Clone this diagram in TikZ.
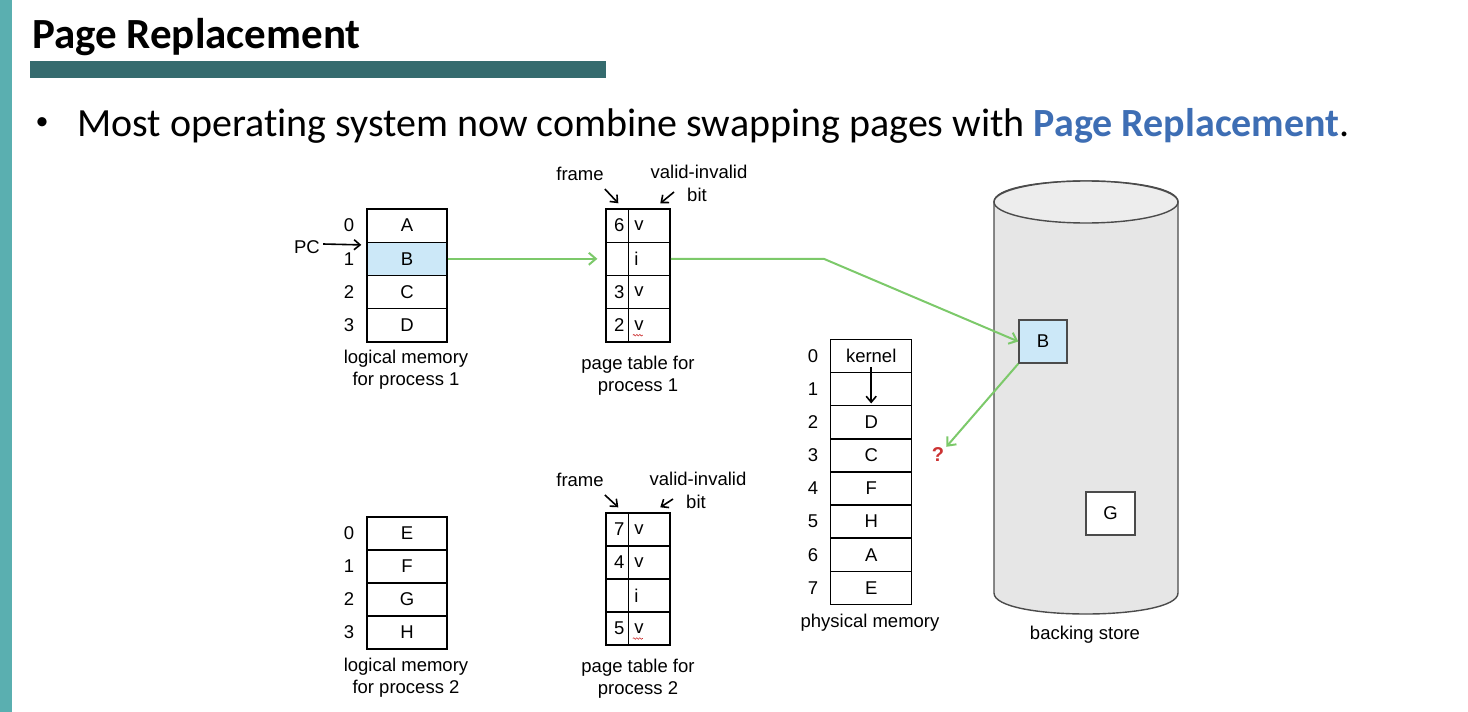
\documentclass[tikz,border=0pt]{standalone}
\usepackage{fontspec}
\setmainfont{Liberation Sans}
\newfontfamily\slidefont[Ligatures=NoCommon]{Carlito}
\usetikzlibrary{arrows.meta,calc,decorations.pathmorphing}

\definecolor{barlight}{RGB}{90,175,176}
\definecolor{bardark}{RGB}{53,107,110}
\definecolor{hlblue}{RGB}{62,110,180}
\definecolor{cellblue}{RGB}{204,232,248}
\definecolor{arrowgreen}{RGB}{124,201,106}
\definecolor{storegray}{RGB}{230,230,230}
\definecolor{storeline}{RGB}{75,75,75}
\definecolor{qred}{RGB}{204,51,51}

\newcommand\diagfont{\fontsize{18.5}{22}\selectfont}

\tikzset{
  cell/.style={draw=black, line width=1.4pt, minimum width=80, minimum height=33.2,
               inner sep=0pt, font=\diagfont},
  fcell/.style={cell, minimum width=22.5, text width=14, align=right},
  bcell/.style={cell, minimum width=41.5, text width=30, align=left},
  idx/.style={inner sep=1pt, font=\diagfont},
  lbl/.style={inner sep=1pt, font=\diagfont, align=center},
  arr/.style={-{Straight Barb[length=6pt,width=10pt]}, line width=1.6pt},
  greenarr/.style={arrowgreen, line width=2pt, -{Straight Barb[length=7pt,width=12pt]}},
  storebox/.style={draw=storeline, line width=1.4pt, minimum width=48, minimum height=43,
                   inner sep=0pt, font=\diagfont},
  squiggle/.style={qred, line width=0.6pt, decorate,
                   decoration={snake, amplitude=0.8pt, segment length=3pt}}
}

\begin{document}
\begin{tikzpicture}[x=1pt,y=-1pt]
\useasboundingbox (0,0) rectangle (1468,712);

% slide header
\fill[barlight] (0,0) rectangle (12,712);
\node[anchor=base west, inner sep=0pt, font=\slidefont\bfseries\fontsize{43}{50}\selectfont]
  (title) at (32,48) {Page Replacement};
\fill[bardark] (30,61) rectangle (606,78);
\node[inner sep=0pt, font=\slidefont\fontsize{26}{30}\selectfont]
  (bullet) at (42,124) {•};
\node[anchor=base west, inner sep=0pt, font=\slidefont\fontsize{40}{48}\selectfont]
  (intro) at (77,136) {Most operating system now combine swapping pages with
  \textcolor{hlblue}{\bfseries Page Replacement}.};

% logical memory, process 1
\foreach \i/\t/\f in {0/A/white,1/B/cellblue,2/C/white,3/D/white} {
  \node[cell, fill=\f] (lma\i) at (407,{225.6+33.2*\i}) {\t};
  \node[idx] (lmai\i) at (349,{225.6+33.2*\i}) {\i};
}
\node[lbl] (lmacap) at (406,370) {logical memory\\for process 1};
\node[inner sep=1pt, font=\diagfont] (pc) at (307,247) {PC};
\draw[arr] ($(pc.east)+(2,-3)$) -- ($(lma0.south west)+(-5,2)$);

% page table, process 1
\foreach \i/\n/\b in {0/6/v,1//i,2/3/v,3/2/v} {
  \node[fcell] (pta\i) at (617.3,{225.6+33.2*\i}) {\n};
  \node[bcell] (ptb\i) at (649.3,{225.6+33.2*\i}) {\b};
}
\draw[squiggle] ($(ptb3.west)+(5,10)$) -- ($(ptb3.west)+(15,10)$);
\node[lbl] (ptacap) at (638,376) {page table for\\process 1};
\node[lbl] (fra) at (580,174) {frame};
\node[lbl] (via) at (699,172) {valid-invalid};
\node[lbl] (bita) at (697,195) {bit};
\draw[arr] ($(fra.south east)+(0,7)$) -- ($(pta0.north)+(1,-5)$);
\draw[arr] ($(bita.west)+(-12,-3)$) -- ($(ptb0.north)+(11,-5)$);

% logical memory, process 2
\foreach \i/\t in {0/E,1/F,2/G,3/H} {
  \node[cell] (lmb\i) at (407,{533.5+33*\i}) {\t};
  \node[idx] (lmbi\i) at (349,{533.5+33*\i}) {\i};
}
\node[lbl] (lmbcap) at (406,678) {logical memory\\for process 2};

% page table, process 2
\foreach \i/\n/\b in {0/7/v,1/4/v,2//i,3/5/v} {
  \node[fcell, minimum height=33] (ptc\i) at (617.3,{529.5+33*\i}) {\n};
  \node[bcell, minimum height=33] (ptd\i) at (649.3,{529.5+33*\i}) {\b};
}
\draw[squiggle] ($(ptd3.west)+(5,10)$) -- ($(ptd3.west)+(15,10)$);
\node[lbl] (ptbcap) at (638,679) {page table for\\process 2};
\node[lbl] (frb) at (580,480) {frame};
\node[lbl] (vib) at (698,479) {valid-invalid};
\node[lbl] (bitb) at (696,502) {bit};
\draw[arr] ($(frb.south east)+(0,7)$) -- ($(ptc0.north)+(1,-5)$);
\draw[arr] ($(bitb.west)+(-12,-3)$) -- ($(ptd0.north)+(11,-5)$);

% physical memory
\foreach \i/\t in {0/kernel,1/,2/D,3/C,4/F,5/H,6/A,7/E} {
  \node[cell, minimum width=81, minimum height=33.1] (pm\i) at (871.2,{356.1+33.1*\i}) {\t};
  \node[idx] (pmi\i) at (813,{356.1+33.1*\i}) {\i};
}
\draw[arr] ($(pm0.south)+(0,-6)$) -- ($(pm1.south)+(0,-3)$);
\node[lbl] (pmcap) at (870,623) {physical memory};
\node[inner sep=0pt, text=qred, font=\fontsize{20}{22}\selectfont\bfseries] (qm) at (938,455) {?};

% backing store cylinder
\filldraw[fill=storegray, draw=storeline, line width=1.4pt]
  (994,202) -- (994,593) .. controls (994,621) and (1178,621) .. (1178,593)
  -- (1178,202) .. controls (1178,174) and (994,174) .. (994,202) -- cycle;
\filldraw[fill=storegray!70!white, draw=storeline, line width=1.4pt]
  (1086,202) ellipse [x radius=92, y radius=21];
\node[storebox, fill=cellblue] (bsB) at (1043,341.5) {B};
\node[storebox, fill=white, minimum width=49] (bsG) at (1110.5,513.5) {G};
\node[lbl] (bscap) at (1085,635) {backing store};

% page fault path
\draw[greenarr] (lma1.east) -- ([xshift=-8pt]pta1.west);
\draw[greenarr] (ptb1.east) -- ++(153,0) -- (bsB.west);
\draw[greenarr] (bsB.south west) -- ($(qm.north east)+(2,-1)$);
\end{tikzpicture}
\end{document}
